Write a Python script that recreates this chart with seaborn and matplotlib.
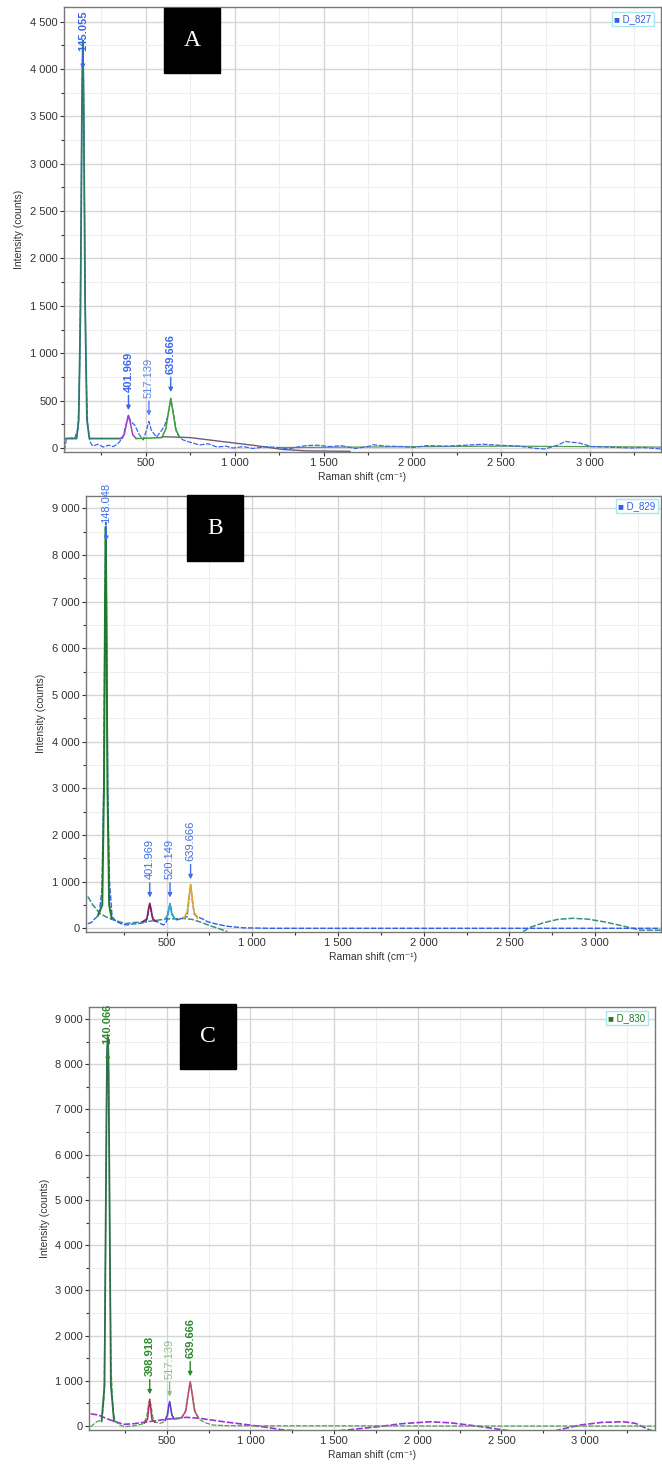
import matplotlib
matplotlib.use("Agg")
import matplotlib.pyplot as plt
import matplotlib.ticker as mticker
from matplotlib.patches import Rectangle
import seaborn as sns

sns.set_style("whitegrid")
plt.rcParams['font.family'] = ['Liberation Sans', 'DejaVu Sans']

W, H = 662, 1467

# ---- panel A (D_827) ----
a_meas_x = [42, 52, 60, 100, 118, 128, 136, 141, 145, 149, 154, 162, 172, 185, 200, 230, 260, 290, 315, 340,
            370, 390, 401, 415, 438, 460, 485, 505, 517, 530, 560, 590, 607, 625, 640, 655, 672, 690, 710, 750,
            803, 850, 900, 950, 990, 1050, 1100, 1180, 1250, 1300, 1365, 1400, 1460, 1536, 1600, 1680, 1761,
            1775, 1850, 1950, 2000, 2080, 2200, 2300, 2400, 2480, 2600, 2700, 2745, 2820, 2860, 2900, 2935,
            3010, 3100, 3230, 3300, 3400]
a_meas_y = [-25, 90, 100, 110, 200, 900, 2600, 3900, 4300, 3900, 2600, 900, 250, 70, 20, 40, 10, 30, 15, 40,
            110, 260, 345, 280, 240, 150, 85, 200, 280, 190, 115, 190, 245, 350, 525, 360, 170, 110, 85, 60,
            32, 45, 10, 20, 0, 15, -5, 14, 5, -10, 14, 25, 30, 15, 25, -5, 20,
            35, 20, 15, 5, 25, 20, 30, 40, 30, 20, -5, -10, 30, 70, 60, 55,
            15, 10, 0, 5, -10]
a_main_x = [42, 110, 122, 132, 140, 145, 150, 158, 168, 182, 360]
a_main_y = [100, 100, 300, 1500, 3600, 4300, 3600, 1500, 300, 100, 100]
a_p402_x = [360, 378, 391, 402, 413, 426, 445]
a_p402_y = [100, 140, 260, 345, 260, 140, 100]
a_p640_x = [445, 590, 612, 629, 640, 651, 668, 690]
a_p640_y = [100, 110, 200, 400, 520, 400, 200, 110]
a_base_x = [590, 750, 900, 1100, 1270, 1400, 1650]
a_base_y = [120, 110, 75, 30, -15, -30, -35]
a_tail_x = [1250, 1700, 2500, 3400]
a_tail_y = [5, 10, 20, 10]

# ---- panel B (D_829) ----
b_meas_x = [40, 60, 80, 95, 110, 123, 133, 140, 145, 150, 157, 167, 182, 205, 230, 250, 270, 300, 348, 380,
            392, 402, 412, 430, 445, 465, 484, 500, 512, 520, 530, 545, 562, 590, 620, 630, 640, 650, 662, 679,
            710, 738, 780, 816, 850, 875, 950, 1100, 3380]
b_meas_y = [100, 120, 200, 250, 400, 820, 3000, 6500, 8700, 6500, 3000, 1000, 250, 150, 107, 80, 71, 90, 107, 130,
            300, 520, 300, 150, 143, 100, 71, 150, 400, 520, 350, 200, 180, 220, 250, 600, 930, 600, 300, 250,
            200, 143, 100, 71, 45, 36, 10, 0, 0]
b_main_x = [100, 125, 135, 141, 145, 149, 155, 165, 180]
b_main_y = [270, 500, 3000, 7000, 8600, 7000, 3000, 500, 200]
b_base_x = [40, 70, 110, 150, 191, 260, 300, 400, 500, 600, 650, 700, 750, 800, 855]
b_base_y = [680, 500, 320, 240, 178, 100, 120, 150, 200, 210, 190, 130, 60, 0, -72]
b_p402_x = [360, 385, 395, 402, 409, 419, 440]
b_p402_y = [140, 200, 420, 536, 420, 200, 150]
b_p520_x = [490, 508, 520, 530, 550]
b_p520_y = [190, 300, 530, 300, 200]
b_p640_x = [600, 620, 632, 640, 648, 660, 680]
b_p640_y = [210, 350, 700, 940, 700, 350, 210]
b_broad_x = [2580, 2620, 2700, 2780, 2870, 2960, 3050, 3150, 3262, 3384]
b_broad_y = [-70, 20, 120, 190, 215, 195, 140, 60, -40, -40]

# ---- panel C (D_830) ----
c_meas_x = [45, 84, 113, 125, 133, 141, 147, 153, 160, 168, 180, 192, 215, 242, 300, 360, 380, 390, 398, 406,
            416, 430, 460, 490, 505, 517, 528, 540, 580, 610, 625, 640, 655, 670, 699, 740, 778, 850, 1000,
            1500, 2500, 3418]
c_meas_y = [-15, 102, 133, 600, 3500, 7800, 8600, 7800, 3500, 1200, 300, 102, 30, -15, 0, 50, 200, 450, 590, 450,
            200, 90, 59, 100, 300, 540, 300, 150, 160, 300, 650, 980, 650, 300, 133, 60, 22, 10, 5,
            5, 0, 0]
c_main_x = [110, 128, 137, 143, 147, 151, 157, 166, 185]
c_main_y = [100, 900, 5500, 8300, 8600, 8300, 5500, 900, 100]
c_p398_x = [365, 385, 392, 398, 404, 411, 430]
c_p398_y = [60, 150, 400, 590, 400, 150, 80]
c_p517_x = [490, 505, 512, 517, 522, 530, 545]
c_p517_y = [120, 250, 450, 540, 450, 250, 150]
c_p640_x = [590, 615, 630, 640, 650, 665, 690]
c_p640_y = [180, 350, 750, 980, 750, 350, 170]
c_base_x = [45, 91, 150, 242, 300, 400, 500, 618, 700, 738, 850, 996, 1100, 1194, 1300, 1482, 1600, 1750,
            1900, 2077, 2200, 2350, 2514, 2600, 2800, 2850, 2970, 3100, 3228, 3300, 3387, 3418]
c_base_y = [270, 243, 150, 37, 50, 100, 150, 192, 170, 148, 90, 22, -30, -88, -110, -120, -80, -20,
            50, 95, 70, 0, -88, -130, -130, -80, 22, 80, 95, 60, -88, -120]

fig = plt.figure(figsize=(W / 100, H / 100), dpi=100)


def px_axes(l, t, r, b):
    return fig.add_axes([l / W, 1 - b / H, (r - l) / W, (b - t) / H])


def style(ax, xlim, ylim, ystep, yminor):
    ax.set_xlim(*xlim)
    ax.set_ylim(*ylim)
    ax.xaxis.set_major_locator(mticker.MultipleLocator(500))
    ax.xaxis.set_minor_locator(mticker.MultipleLocator(250))
    ax.yaxis.set_major_locator(mticker.MultipleLocator(ystep))
    ax.yaxis.set_minor_locator(mticker.MultipleLocator(yminor))
    fmt = mticker.FuncFormatter(lambda v, p: f"{v:,.0f}".replace(",", " "))
    ax.xaxis.set_major_formatter(fmt)
    ax.yaxis.set_major_formatter(fmt)
    ax.grid(which="major", color="#d6d6d6", lw=1.0)
    ax.grid(which="minor", color="#eeeeee", lw=0.8)
    ax.tick_params(which="both", direction="out", colors="#333333", labelsize=8,
                   bottom=True, left=True, length=3, width=0.8, pad=1.5)
    ax.tick_params(which="minor", length=2)
    for s in ax.spines.values():
        s.set_color("#777777")
        s.set_linewidth(1.0)
    ax.set_xlabel("Raman shift (cm\u207b\u00b9)", fontsize=7.5, color="#333333", labelpad=3)
    ax.set_ylabel("Intensity (counts)", fontsize=7.5, color="#333333", labelpad=4)


def line(ax, x, y, color, lw=1.0, ls="-"):
    sns.lineplot(x=x, y=y, ax=ax, color=color, lw=lw, linestyle=ls, estimator=None, sort=False)


def peak_label(ax, x, tip, text, color, bold=True):
    ax.annotate(text, xy=(x, tip), xytext=(0, 13), textcoords="offset points",
                rotation=90, ha="center", va="bottom", fontsize=8, color=color,
                fontweight="bold" if bold else "normal",
                arrowprops=dict(arrowstyle="-|>", color=color, lw=1.0, mutation_scale=6,
                                shrinkA=0, shrinkB=0))


def letter_box(l, t, r, b, letter):
    fig.patches.append(Rectangle((l / W, 1 - b / H), (r - l) / W, (b - t) / H,
                                 transform=fig.transFigure, color="black", zorder=5))
    fig.text((l + r) / 2 / W, 1 - (t + b) / 2 / H, letter, color="white", fontsize=17,
             family="Liberation Serif", ha="center", va="center", zorder=6)


def legend_box(cx, cy, text, color):
    fig.text(cx / W, 1 - cy / H, "\u25a0 " + text, color=color, fontsize=7, ha="center", va="center",
             bbox=dict(boxstyle="square,pad=0.2", fc="white", ec="#a8e6f6", lw=1.0), zorder=6)


dash = (0, (4, 1.2))

# panel A
ax = px_axes(64, 7, 661, 452)
style(ax, (39, 3400), (-42, 4654), 500, 250)
line(ax, a_base_x, a_base_y, "#6f5a7a", 1.0)
line(ax, a_tail_x, a_tail_y, "#5a9a5a", 0.9)
line(ax, a_meas_x, a_meas_y, "#3a66ee", 0.9, dash)
line(ax, a_main_x, a_main_y, "#2f7a6a", 1.3)
line(ax, a_p402_x, a_p402_y, "#a040c8", 1.1)
line(ax, a_p640_x, a_p640_y, "#3f9f2f", 1.1)
peak_label(ax, 145, 4000, "145.055", "#3a66ee")
peak_label(ax, 402, 400, "401.969", "#3a66ee")
peak_label(ax, 517, 340, "517.139", "#5a86ee", bold=False)
peak_label(ax, 640, 590, "639.666", "#3a66ee")

# panel B
ax = px_axes(86, 496, 661, 931.7)
style(ax, (30, 3384), (-73, 9263), 1000, 500)
line(ax, b_base_x, b_base_y, "#3a8f8a", 1.1, dash)
line(ax, b_broad_x, b_broad_y, "#3a8f8a", 1.1, dash)
line(ax, b_meas_x, b_meas_y, "#2f5fe8", 1.0, dash)
line(ax, b_main_x, b_main_y, "#1f7a2a", 1.4)
line(ax, b_p402_x, b_p402_y, "#8b1f5a", 1.2)
line(ax, b_p520_x, b_p520_y, "#2aa8d0", 1.2)
line(ax, b_p640_x, b_p640_y, "#e0a830", 1.2)
peak_label(ax, 148, 8300, "148.048", "#3f6fe8", bold=False)
peak_label(ax, 402, 660, "401.969", "#3f6fe8", bold=False)
peak_label(ax, 520, 660, "520.149", "#3f6fe8", bold=False)
peak_label(ax, 640, 1050, "639.666", "#3f6fe8", bold=False)

# panel C
ax = px_axes(89.3, 1006.7, 655, 1430)
style(ax, (37, 3418), (-88, 9272), 1000, 500)
line(ax, c_base_x, c_base_y, "#9a33dd", 1.2, dash)
line(ax, c_meas_x, c_meas_y, "#4fa34f", 0.9, dash)
line(ax, c_main_x, c_main_y, "#2f6f4f", 1.3)
line(ax, c_p398_x, c_p398_y, "#a8305a", 1.1)
line(ax, c_p517_x, c_p517_y, "#5a3adf", 1.1)
line(ax, c_p640_x, c_p640_y, "#c04a6a", 1.1)
peak_label(ax, 147, 8050, "140.066", "#2a8a2a")
peak_label(ax, 398, 700, "398.918", "#2a8a2a")
peak_label(ax, 517, 650, "517.139", "#8abf8a", bold=False)
peak_label(ax, 640, 1100, "639.666", "#2a8a2a")

letter_box(164, 8, 220, 73, "A")
letter_box(187, 495, 243, 561, "B")
letter_box(180, 1004, 236, 1069, "C")
legend_box(633, 19, "D_827", "#2f5fe8")
legend_box(637, 506, "D_829", "#2f5fe8")
legend_box(627, 1018, "D_830", "#1f7a2a")

fig.savefig("out.png", dpi=100)
